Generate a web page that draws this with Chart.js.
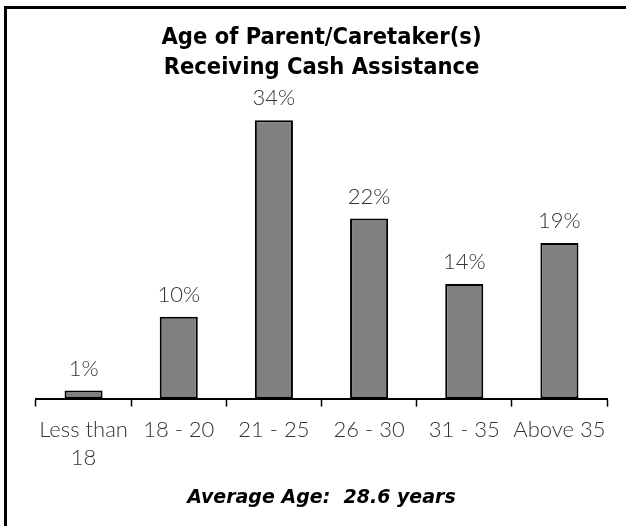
<!DOCTYPE html>
<html>
<head>
<meta charset="utf-8">
<script src="https://cdn.jsdelivr.net/npm/chart.js@4"></script>
<style>
    body { margin: 0; background: #fff; }
    #wrap { position: relative; width: 626px; height: 526px; overflow: hidden; }
    #frame {
        position: absolute; left: 4px; top: 6px; width: 700px; height: 600px;
        border-top: 3px solid #000; border-left: 3px solid #000; pointer-events: none;
    }
</style>
</head>
<body>
<div id="wrap">
    <canvas id="ageChart" width="626" height="526"></canvas>
    <div id="frame"></div>
</div>
<script>
// ข้อมูลของกราฟ
const categories = [['Less than', '18'], '18 - 20', '21 - 25', '26 - 30', '31 - 35', 'Above 35'];
const percentValues = [1, 10, 34, 22, 14, 19];
const chartTitle = ['Age of Parent/Caretaker(s)', 'Receiving Cash Assistance'];
const footerText = 'Average Age:  28.6 years';

const titleFont = '"DejaVu Sans Condensed", "DejaVu Sans", sans-serif';
const labelFont = 'Lato, "DejaVu Sans", sans-serif';
const footerFont = '"DejaVu Sans", sans-serif';

// ปลั๊กอินแสดงค่าเปอร์เซ็นต์เหนือแท่ง
const barValueLabels = {
    id: 'barValueLabels',
    afterDatasetsDraw(chart) {
        const ctx = chart.ctx;
        const meta = chart.getDatasetMeta(0);
        ctx.save();
        ctx.font = '300 22px ' + labelFont;
        ctx.fillStyle = '#333';
        ctx.textAlign = 'center';
        ctx.textBaseline = 'middle';
        meta.data.forEach((bar, i) => {
            ctx.fillText(percentValues[i] + '%', bar.x, bar.y - 22);
        });
        ctx.restore();
    }
};

function renderBarChart(canvasId) {
    const ctx = document.getElementById(canvasId).getContext('2d');

    new Chart(ctx, {
        type: 'bar',
        data: {
            labels: categories,
            datasets: [{
                data: percentValues,
                backgroundColor: '#808080',
                borderColor: '#000',
                borderWidth: 2,
                borderSkipped: false,
                categoryPercentage: 1,
                barPercentage: 0.4
            }]
        },
        options: {
            responsive: false,
            animation: false,
            layout: {
                padding: { left: 36, right: 19, top: 0, bottom: 17 }
            },
            scales: {
                x: {
                    border: { display: true, color: '#000', width: 2 },
                    grid: {
                        offset: true,
                        drawOnChartArea: false,
                        drawTicks: true,
                        tickLength: 8,
                        tickWidth: 1.5,
                        tickColor: '#000'
                    },
                    ticks: {
                        color: '#333',
                        padding: 10,
                        maxRotation: 0,
                        autoSkip: false,
                        font: { family: labelFont, size: 22, weight: 300, lineHeight: 1.25 }
                    }
                },
                y: {
                    display: false,
                    min: 0,
                    max: 38.3
                }
            },
            plugins: {
                legend: { display: false },
                tooltip: { enabled: false },
                title: {
                    display: true,
                    text: chartTitle,
                    color: '#000',
                    padding: { top: 23, bottom: 2 },
                    font: { family: titleFont, size: 23.5, weight: 'bold', lineHeight: 1.28 }
                },
                subtitle: {
                    display: true,
                    position: 'bottom',
                    text: footerText,
                    color: '#000',
                    padding: { top: 4.6, bottom: 0 },
                    font: { family: footerFont, size: 19, weight: 'bold', style: 'italic', lineHeight: 1.2 }
                }
            }
        },
        plugins: [barValueLabels]
    });
}

renderBarChart('ageChart');
</script>
</body>
</html>
